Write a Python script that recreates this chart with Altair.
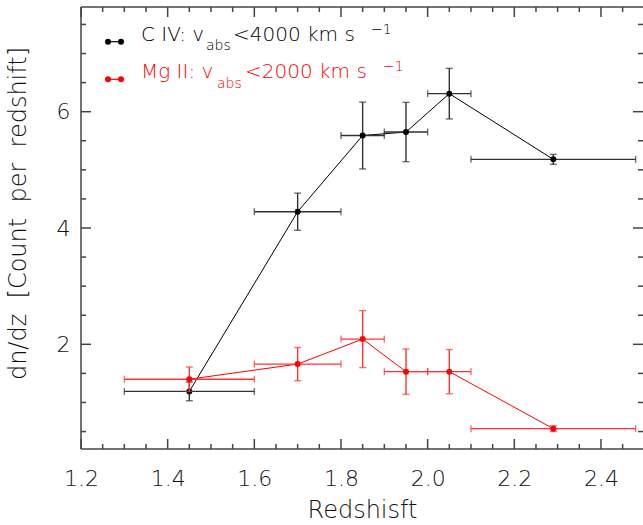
import altair as alt
import pandas as pd

# ---- data ----
redshift = [1.45, 1.70, 1.85, 1.95, 2.05, 2.29]
z_low = [1.30, 1.60, 1.80, 1.90, 2.00, 2.10]
z_high = [1.60, 1.80, 1.90, 2.00, 2.10, 2.48]
civ_dndz = [1.19, 4.28, 5.59, 5.65, 6.31, 5.18]
civ_err = [0.16, 0.32, 0.575, 0.51, 0.435, 0.085]
mgii_dndz = [1.40, 1.66, 2.09, 1.53, 1.53, 0.55]
mgii_err = [0.21, 0.285, 0.49, 0.39, 0.38, 0.05]

x_major = [1.2, 1.4, 1.6, 1.8, 2.0, 2.2, 2.4]
x_minor = [1.25, 1.30, 1.35, 1.45, 1.50, 1.55, 1.65, 1.70, 1.75, 1.85, 1.90,
           1.95, 2.05, 2.10, 2.15, 2.25, 2.30, 2.35, 2.45]
y_major = [2, 4, 6]
y_minor = [0.5, 1.0, 1.5, 2.5, 3.0, 3.5, 4.5, 5.0, 5.5, 6.5, 7.0, 7.5]

W, H = 562, 442
FONT = "DejaVu Sans"
FW = 200
TXT = "#111111"
AX = "#444444"
NB = "\u00a0"

xs = alt.Scale(domain=[1.2, 2.497], nice=False, zero=False)
ys = alt.Scale(domain=[0.2, 7.8], nice=False, zero=False)


def frame(vals, err):
    return pd.DataFrame({
        "z": redshift, "lo": z_low, "hi": z_high, "v": vals,
        "vlo": [a - b for a, b in zip(vals, err)],
        "vhi": [a + b for a, b in zip(vals, err)],
    })


ytitle = "dn/dz" + NB + " [Count" + NB + " per" + NB + " redshift]"

xaxis = alt.Axis(title="Redshisft", values=x_major, format=".1f", domain=False,
                 ticks=False, grid=False, labelFont=FONT, labelFontSize=22,
                 labelFontWeight=FW, labelColor=TXT, labelPadding=19,
                 labelFlush=False, labelOverlap=False, labelBound=False,
                 titleFont=FONT, titleFontSize=24, titleFontWeight=FW,
                 titleColor=TXT, titleBaseline="alphabetic", titleY=68.5)
yaxis = alt.Axis(title=ytitle, values=y_major, format="d",
                 domain=False, ticks=False, grid=False, labelFont=FONT,
                 labelFontSize=22, labelFontWeight=FW, labelColor=TXT,
                 labelPadding=11, labelFlush=False, labelOverlap=False,
                 titleFont=FONT, titleFontSize=24, titleFontWeight=FW,
                 titleColor=TXT, titleX=-63, titleY=206, titleBaseline="middle",
                 titleAlign="center")


def X(f):
    return alt.X(f, scale=xs, axis=xaxis)


def Y(f):
    return alt.Y(f, scale=ys, axis=yaxis)


def series(df, color, errcolor):
    base = alt.Chart(df)
    line = base.mark_line(color=color, strokeWidth=1).encode(
        x=X("z:Q"), y=Y("v:Q"))
    hbar = base.mark_rule(color=errcolor, strokeWidth=1.4).encode(
        x=X("lo:Q"), x2="hi:Q", y=Y("v:Q"))
    vbar = base.mark_rule(color=errcolor, strokeWidth=1.4).encode(
        x=X("z:Q"), y=Y("vlo:Q"), y2="vhi:Q")
    caps = []
    for f in ["vlo", "vhi"]:
        caps.append(base.mark_tick(color=errcolor, orient="horizontal", size=7,
                                   thickness=1.4).encode(
            x=X("z:Q"), y=Y(f + ":Q")))
    for f in ["lo", "hi"]:
        caps.append(base.mark_tick(color=errcolor, orient="vertical", size=7,
                                   thickness=1.4).encode(
            x=X(f + ":Q"), y=Y("v:Q")))
    pts = base.mark_circle(color=color, size=36, opacity=1).encode(
        x=X("z:Q"), y=Y("v:Q"))
    return [line, hbar, vbar] + caps + [pts]


civ = frame(civ_dndz, civ_err)
mgii = frame(mgii_dndz, mgii_err)

layers = []
layers += series(civ, "black", "#333333")
layers += series(mgii, "#ff0000", "#ff3333")

# ---- frame and inward ticks ----
one = pd.DataFrame({"k": [0]})
layers.append(alt.Chart(one).mark_rule(color=AX, strokeWidth=1.5).encode(
    x=alt.value(0), y=alt.value(0), y2=alt.value(H)))
layers.append(alt.Chart(one).mark_rule(color=AX, strokeWidth=1.5).encode(
    x=alt.value(0), x2=alt.value(W), y=alt.value(H)))
layers.append(alt.Chart(one).mark_rule(color=AX, strokeWidth=1.5).encode(
    x=alt.value(0), x2=alt.value(W), y=alt.value(0)))

for vals, ln in [(x_major, 10), (x_minor, 5)]:
    d = pd.DataFrame({"x": vals})
    layers.append(alt.Chart(d).mark_rule(color=AX, strokeWidth=1.5).encode(
        x=X("x:Q"), y=alt.value(H), y2=alt.value(H - ln)))
    layers.append(alt.Chart(d).mark_rule(color=AX, strokeWidth=1.5).encode(
        x=X("x:Q"), y=alt.value(0), y2=alt.value(ln)))
for vals, ln in [(y_major, 10), (y_minor, 5)]:
    d = pd.DataFrame({"y": vals})
    layers.append(alt.Chart(d).mark_rule(color=AX, strokeWidth=1.5).encode(
        y=Y("y:Q"), x=alt.value(0), x2=alt.value(ln)))
    layers.append(alt.Chart(d).mark_rule(color=AX, strokeWidth=1.5).encode(
        y=Y("y:Q"), x=alt.value(W), x2=alt.value(W - ln)))


# ---- legend ----
def txt(s, x, y, size, color):
    return alt.Chart(one).mark_text(text=s, font=FONT, fontSize=size,
                                    fontWeight=FW, color=color, align="left",
                                    baseline="alphabetic").encode(
        x=alt.value(x), y=alt.value(y))


for col, yb, name, sub_x, rest, rest_x, sup_x in [
        ("black", 33.7, "C IV: v", 125, "<4000 km s", 152, 290),
        ("#ff0000", 71.3, "Mg II: v", 136, "<2000 km s", 164, 302)]:
    ysym = yb + 1
    layers.append(alt.Chart(one).mark_rule(color=col, strokeWidth=1.2).encode(
        x=alt.value(27), x2=alt.value(40), y=alt.value(ysym)))
    for xx in [27, 40]:
        layers.append(alt.Chart(one).mark_circle(color=col, size=36, opacity=1).encode(
            x=alt.value(xx), y=alt.value(ysym)))
    layers.append(txt(name, 60, yb, 20, col))
    layers.append(txt("abs", sub_x, yb + 9.5, 14, col))
    layers.append(txt(rest, rest_x, yb, 20, col))
    layers.append(txt("\u22121", sup_x, yb - 7, 14, col))

chart = alt.layer(*layers).properties(
    width=W, height=H,
    autosize=alt.AutoSizeParams(type="none"),
    padding={"left": 81, "top": 7, "right": 0, "bottom": 76},
    background="white",
).configure_view(strokeWidth=0)

chart.save("out.html", embed_options={"renderer": "svg", "actions": False})
